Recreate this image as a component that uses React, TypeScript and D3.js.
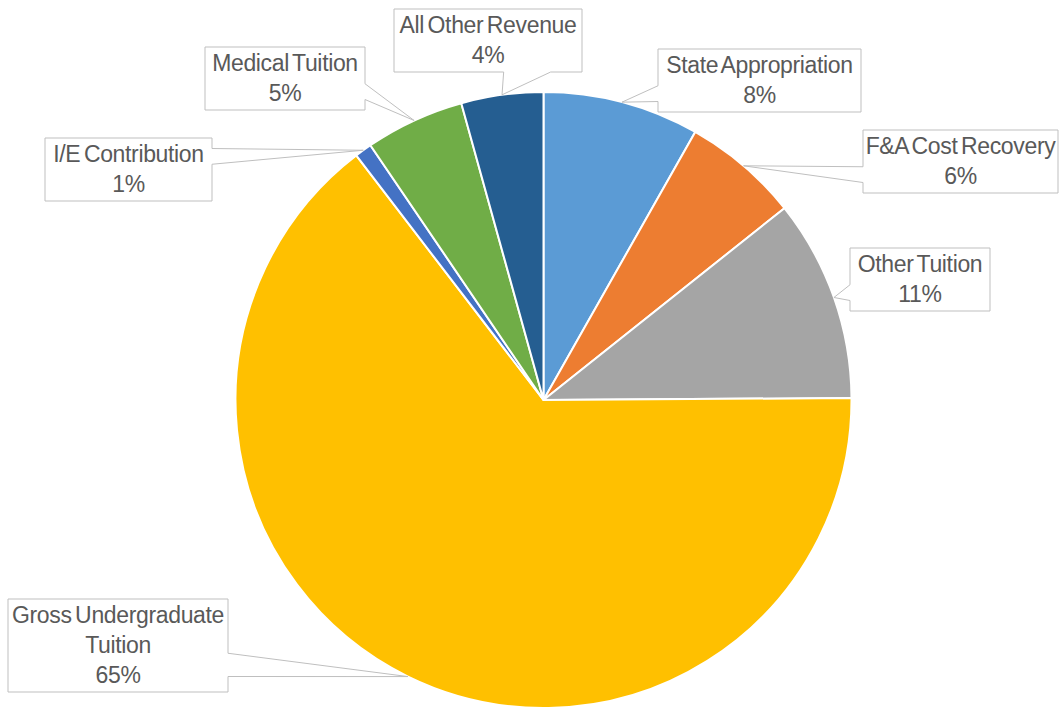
import React from "react";
import * as d3 from "d3";

const categories = [
  "State Appropriation",
  "F&A Cost Recovery",
  "Other Tuition",
  "Gross Undergraduate Tuition",
  "I/E Contribution",
  "Medical Tuition",
  "All Other Revenue",
];
const values = [8.2, 6.1, 10.6, 64.7, 0.9, 5.2, 4.3];
const colors = ["#5B9BD5", "#ED7D31", "#A5A5A5", "#FFC000", "#4472C4", "#70AD47", "#255E91"];
const labelLines = [
  ["State Appropriation"],
  ["F&A Cost Recovery"],
  ["Other Tuition"],
  ["Gross Undergraduate", "Tuition"],
  ["I/E Contribution"],
  ["Medical Tuition"],
  ["All Other Revenue"],
];
// label box layout (x, y, width) in px
const labelBoxes = [
  { x: 658, y: 49, w: 203 },
  { x: 863, y: 130, w: 195 },
  { x: 850, y: 248, w: 140 },
  { x: 8, y: 599, w: 220 },
  { x: 45, y: 138, w: 167 },
  { x: 205, y: 47, w: 160 },
  { x: 394, y: 9, w: 188 },
];

const W = 1059;
const H = 709;
const CX = 543.5;
const CY = 400;
const R = 308;
const LINE_H = 30;

function calloutPath(x: number, y: number, w: number, h: number, tx: number, ty: number) {
  const cx = x + w / 2, cy = y + h / 2;
  const dx = tx - cx, dy = ty - cy;
  const horiz = Math.abs(dx) * h > Math.abs(dy) * w;
  const p: string[] = [`M${x},${y}`];
  if (!horiz && dy < 0) {
    const b1 = dx > 0 ? x + (7 * w) / 12 : x + (2 * w) / 12;
    const b2 = dx > 0 ? x + (10 * w) / 12 : x + (5 * w) / 12;
    p.push(`L${b1},${y}`, `L${tx},${ty}`, `L${b2},${y}`);
  }
  p.push(`L${x + w},${y}`);
  if (horiz && dx > 0) {
    const b1 = dy > 0 ? y + (7 * h) / 12 : y + (2 * h) / 12;
    const b2 = dy > 0 ? y + (10 * h) / 12 : y + (5 * h) / 12;
    p.push(`L${x + w},${b1}`, `L${tx},${ty}`, `L${x + w},${b2}`);
  }
  p.push(`L${x + w},${y + h}`);
  if (!horiz && dy >= 0) {
    const b1 = dx > 0 ? x + (7 * w) / 12 : x + (2 * w) / 12;
    const b2 = dx > 0 ? x + (10 * w) / 12 : x + (5 * w) / 12;
    p.push(`L${b2},${y + h}`, `L${tx},${ty}`, `L${b1},${y + h}`);
  }
  p.push(`L${x},${y + h}`);
  if (horiz && dx <= 0) {
    const b1 = dy > 0 ? y + (7 * h) / 12 : y + (2 * h) / 12;
    const b2 = dy > 0 ? y + (10 * h) / 12 : y + (5 * h) / 12;
    p.push(`L${x},${b2}`, `L${tx},${ty}`, `L${x},${b1}`);
  }
  p.push("Z");
  return p.join(" ");
}

export default function App() {
  const data = categories.map((c, i) => ({ c, v: values[i], i }));
  const total = d3.sum(values);
  const pie = d3.pie<any>().sort(null).value((d) => d.v).startAngle(0).endAngle(2 * Math.PI);
  const arcs = pie(data);
  const arc = d3.arc<any>().innerRadius(0).outerRadius(R);
  const tipArc = d3.arc<any>().innerRadius(R).outerRadius(R);

  return (
    <svg
      width={W}
      height={H}
      style={{ position: "absolute", left: 0, top: 0, background: "#fff" }}
      fontFamily="'Liberation Sans', Arial, sans-serif"
    >
      <g transform={`translate(${CX},${CY})`}>
        {arcs.map((a, i) => (
          <path key={i} d={arc(a) as string} fill={colors[i]} stroke="#fff" strokeWidth={2} />
        ))}
      </g>
      {arcs.map((a, i) => {
        const [tx0, ty0] = tipArc.centroid(a);
        const tx = tx0 + CX, ty = ty0 + CY;
        const b = labelBoxes[i];
        const lines = [...labelLines[i], `${Math.round((values[i] / total) * 100)}%`];
        const h = LINE_H * lines.length + 3;
        return (
          <g key={"l" + i}>
            <path d={calloutPath(b.x, b.y, b.w, h, tx, ty)} fill="#fff" stroke="#BFBFBF" strokeWidth={1} />
            {lines.map((t, j) => (
              <text
                key={j}
                x={b.x + b.w / 2}
                y={b.y + 23.5 + j * LINE_H}
                textAnchor="middle"
                fontSize={23}
                fill="#595959"
                letterSpacing={-0.35}
                wordSpacing={-2.5}
              >
                {t}
              </text>
            ))}
          </g>
        );
      })}
    </svg>
  );
}
